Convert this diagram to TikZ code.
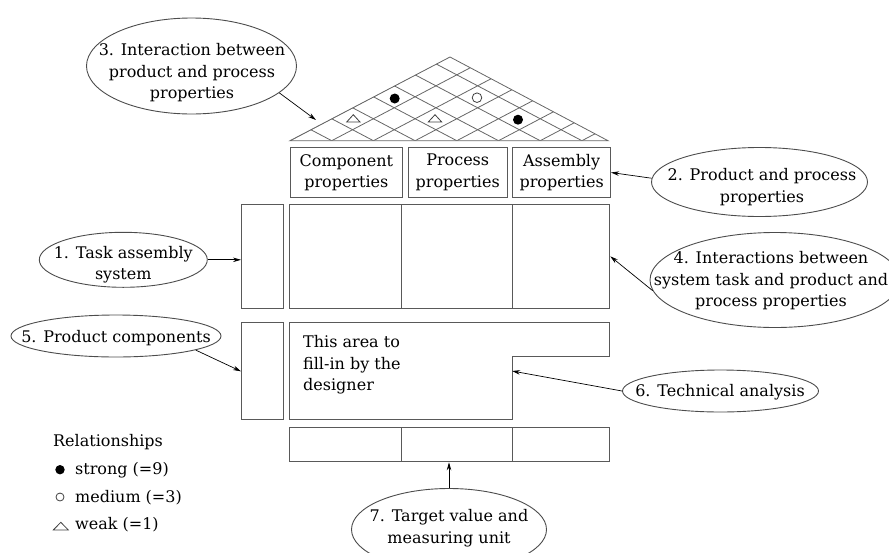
\documentclass[tikz,border=0pt]{standalone}
\usepackage{fontspec}
\setmainfont{DejaVu Serif}
\usetikzlibrary{shapes.geometric,arrows.meta,calc}
\newcommand{\mytxt}{\fontsize{16}{21.5}\selectfont}
\begin{document}
\begin{tikzpicture}[x=1pt,y=-1pt,
  box/.style={draw=black!65, line width=1pt, inner sep=0pt, align=center, font=\mytxt},
  ell/.style={ellipse, draw=black!70, line width=0.9pt, inner sep=0pt},
  lbl/.style={align=center, inner sep=0pt, font=\mytxt},
  arr/.style={-{Stealth[length=8pt,width=4.5pt]}, line width=0.7pt, black},
  gridln/.style={draw=black!60, line width=0.8pt},
  symb/.style={draw=black!75, line width=0.8pt}
]
\path[use as bounding box, clip] (0,0) rectangle (889,552);

% ---------- roof ----------
\coordinate (rl) at (290,140.7);
\coordinate (rr) at (608,140.7);
\coordinate (ra) at (450,57);
\begin{scope}
  \clip (rl) -- (ra) -- (rr) -- cycle;
  \foreach \i in {0,...,8} {
    \draw[gridln] ({290+41.7*\i},140.7) -- ++(200,-105.3);
    \draw[gridln] ({290+41.7*\i},140.7) -- ++(-200,-105.3);
  }
\end{scope}
\draw[gridln] (rl) -- (ra) -- (rr) -- cycle;
\coordinate (roofpt) at (316,120);

% markers in roof
\fill (394.7,98.5) circle[radius=5pt];
\draw[symb, fill=white] (477,97.7) circle[radius=4.8pt];
\fill (518,119.7) circle[radius=5pt];
\draw[symb] (346.7,122) -- (360,122) -- (353.3,114.7) -- cycle;
\draw[symb] (428.3,122) -- (441.7,122) -- (435,114.7) -- cycle;

% ---------- property boxes ----------
\node[box, anchor=north west, minimum width=111.7pt, minimum height=49.4pt] (cp) at (290,147.3) {Component\\properties};
\node[box, anchor=north west, minimum width=99pt, minimum height=49.4pt] (pp) at (407.7,147.3) {Process\\properties};
\node[box, anchor=north west, minimum width=97.7pt, minimum height=49.4pt] (ap) at (512.3,147.3) {Assembly\\properties};

% ---------- relationship matrix ----------
\node[box, anchor=north west, minimum width=42pt, minimum height=103.7pt] (lt) at (241,204) {};
\node[box, anchor=north west, minimum width=111.4pt, minimum height=103.7pt] (m1) at (289.3,204) {};
\node[box, anchor=north west, minimum width=111.3pt, minimum height=103.7pt] (m2) at (400.7,204) {};
\node[box, anchor=north west, minimum width=97.3pt, minimum height=103.7pt] (m3) at (512,204) {};

% ---------- lower part ----------
\node[box, anchor=north west, minimum width=42pt, minimum height=97pt] (lb) at (241,322.3) {};
\draw[draw=black!65, line width=1pt] (289.3,322.3) -- (609.3,322.3) -- (609.3,356.7) -- (512,356.7) -- (512,419.3) -- (289.3,419.3) -- cycle;
\coordinate (notch) at (512,371);
\node[lbl, anchor=west, align=left] (fill) at (303,365) {This area to\\fill-in by the\\designer};

\node[box, anchor=north west, minimum width=111.4pt, minimum height=34.6pt] (b1) at (289.3,426.7) {};
\node[box, anchor=north west, minimum width=111.3pt, minimum height=34.6pt] (b2) at (400.7,426.7) {};
\node[box, anchor=north west, minimum width=97.3pt, minimum height=34.6pt] (b3) at (512,426.7) {};

% ---------- ellipses ----------
\node[ell, minimum width=210pt, minimum height=96pt] (e3) at (191.5,66) {};
\node[lbl] (t3) at (192,73) {3. Interaction between\\product and process\\properties};

\node[ell, minimum width=216pt, minimum height=69pt] (e2) at (759.5,182) {};
\node[lbl] (t2) at (762,187) {2. Product and process\\properties};

\node[ell, minimum width=168pt, minimum height=55pt] (e1) at (123.3,259.8) {};
\node[lbl] (t1) at (123.3,264.5) {1. Task assembly\\system};

\node[ell, minimum width=250pt, minimum height=95pt] (e4) at (775,280) {};
\node[lbl] (t4) at (771,281) {4. Interactions between\\system task and product and\\process properties};

\node[ell, minimum width=210pt, minimum height=42pt] (e5) at (116,336) {};
\node[lbl] (t5) at (116,338) {5. Product components};

\node[ell, minimum width=196pt, minimum height=42pt] (e6) at (720.5,391) {};
\node[lbl] (t6) at (720,392) {6. Technical analysis};

\node[ell, minimum width=195pt, minimum height=82pt] (e7) at (449,529.5) {};
\node[lbl] (t7) at (449,528) {7. Target value and\\measuring unit};

% ---------- legend ----------
\node[lbl, anchor=west] (rel) at (53,441.7) {Relationships};
\fill (60,469.7) circle[radius=4.7pt];
\node[lbl, anchor=west] (lstrong) at (75,470) {strong (=9)};
\draw[symb, fill=white] (60,497) circle[radius=4pt];
\node[lbl, anchor=west] (lmed) at (75,497.3) {medium (=3)};
\draw[symb] (53.3,530) -- (68.3,530) -- (60.8,522.3) -- cycle;
\node[lbl, anchor=west] (lweak) at (75,525) {weak (=1)};

% ---------- arrows ----------
\draw[arr] (e3.-17) -- (roofpt);
\draw[arr] (e2.178) -- (ap.east);
\draw[arr] (e1.east) -- (e1.east -| lt.west);
\draw[arr] (e5.-10) -- (lb.west);
\draw[arr] (e6.west) -- (notch);
\draw[arr] (e4.185) -- (m3.east);
\draw[arr] (e7.north) -- (e7.north |- b2.south);
\end{tikzpicture}
\end{document}
